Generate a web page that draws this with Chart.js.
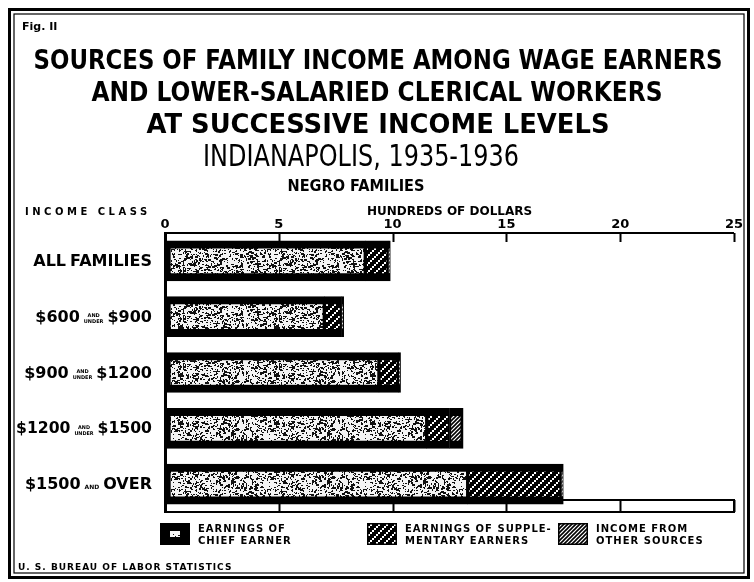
<!DOCTYPE html>
<html>
<head>
<meta charset="utf-8">
<script src="https://cdn.jsdelivr.net/npm/chart.js@4.4.1/dist/chart.umd.min.js"></script>
<style>
  html, body { margin: 0; padding: 0; background: #fff; }
  #wrap { width: 754px; height: 582px; }
</style>
</head>
<body>
<div id="wrap"><canvas id="incomeChart" width="754" height="582"></canvas></div>
<script>
// values, hundreds of dollars
const incomeClasses = ['ALL FAMILIES', '$600 AND UNDER $900', '$900 AND UNDER $1200', '$1200 AND UNDER $1500', '$1500 AND OVER'];
const chiefEarner = [8.8, 7.0, 9.4, 11.5, 13.3];
const supplementary = [1.0, 0.75, 0.85, 1.0, 4.1];
const otherSources = [0.1, 0.1, 0.1, 0.6, 0.1];
const xTicks = [0, 5, 10, 15, 20, 25];

const titleLines = [
    'SOURCES OF FAMILY INCOME AMONG WAGE EARNERS',
    'AND LOWER-SALARIED CLERICAL WORKERS',
    'AT SUCCESSIVE INCOME LEVELS',
    'INDIANAPOLIS, 1935-1936',
    'NEGRO FAMILIES'
];
const legendLines = [
    ['EARNINGS OF', 'CHIEF EARNER'],
    ['EARNINGS OF SUPPLE-', 'MENTARY EARNERS'],
    ['INCOME FROM', 'OTHER SOURCES']
];
const figLabel = 'Fig. II';
const sourceNote = 'U. S. BUREAU OF LABOR STATISTICS';
const classHeading = 'INCOME CLASS';

const FONT = '"DejaVu Sans", "Liberation Sans", sans-serif';

// texture for the chief earner bars (fixed seed so it is the same every time)
function speckle() {
    const c = document.createElement('canvas');
    c.width = 96; c.height = 48;
    const g = c.getContext('2d');
    g.fillStyle = '#f4f4f4';
    g.fillRect(0, 0, 96, 48);
    g.fillStyle = '#111';
    let seed = 1234567;
    const rnd = () => {
        seed |= 0; seed = seed + 0x6D2B79F5 | 0;
        let t = Math.imul(seed ^ seed >>> 15, 1 | seed);
        t = t + Math.imul(t ^ t >>> 7, 61 | t) ^ t;
        return ((t ^ t >>> 14) >>> 0) / 4294967296;
    };
    for (let i = 0; i < 900; i++) {
        const px = Math.floor(rnd() * 96);
        const py = Math.floor(rnd() * 48);
        const r = rnd();
        const w = r < 0.6 ? 1 : (r < 0.9 ? 2 : 3);
        const h = rnd() < 0.6 ? 1 : 2;
        g.fillRect(px, py, w, h);
    }
    return g.createPattern(c, 'repeat');
}

function dottedHatch() {
    const c = document.createElement('canvas');
    c.width = 8; c.height = 8;
    const g = c.getContext('2d');
    g.fillStyle = '#000';
    g.fillRect(0, 0, 8, 8);
    g.fillStyle = '#fff';
    [[0, 6], [2, 4], [4, 2], [6, 0]].forEach(p => g.fillRect(p[0], p[1], 2, 2));
    return g.createPattern(c, 'repeat');
}

function lineHatch() {
    const c = document.createElement('canvas');
    c.width = 4; c.height = 4;
    const g = c.getContext('2d');
    g.fillStyle = '#fff';
    g.fillRect(0, 0, 4, 4);
    g.strokeStyle = '#000';
    g.lineWidth = 1.6;
    g.beginPath();
    g.moveTo(-1, 5); g.lineTo(5, -1);
    g.moveTo(-1, 1); g.lineTo(1, -1);
    g.moveTo(3, 5); g.lineTo(5, 3);
    g.stroke();
    return g.createPattern(c, 'repeat');
}

const chiefFill = speckle();
const suppFill = dottedHatch();
const otherFill = lineHatch();

// income class labels with the small stacked "AND UNDER"
function drawClassLabel(ctx, text, right, cy, maxW) {
    const words = text.split(' ');
    const items = [];
    for (let i = 0; i < words.length; i++) {
        if (words[i] === 'AND' && words[i + 1] === 'UNDER') {
            items.push({ kind: 'stack', a: 'AND', b: 'UNDER' });
            i++;
        } else if (words[i] === 'AND') {
            items.push({ kind: 'small', a: 'AND' });
        } else {
            items.push({ kind: 'big', a: words[i] });
        }
    }
    const big = 'bold 16px ' + FONT;
    const tiny = 'bold 5px ' + FONT;
    const small = 'bold 6px ' + FONT;
    items.forEach(it => {
        if (it.kind === 'big') { ctx.font = big; it.w = ctx.measureText(it.a).width; }
        else if (it.kind === 'small') { ctx.font = small; it.w = ctx.measureText(it.a).width; }
        else { ctx.font = tiny; it.w = Math.max(ctx.measureText(it.a).width, ctx.measureText(it.b).width); }
    });
    const gap = 4;
    const total = items.reduce((t, it) => t + it.w, 0) + gap * (items.length - 1);
    const k = Math.min(1, maxW / total);
    ctx.save();
    ctx.translate(right - total * k, 0);
    ctx.scale(k, 1);
    let x = 0;
    ctx.textAlign = 'left';
    ctx.textBaseline = 'middle';
    items.forEach(it => {
        if (it.kind === 'big') {
            ctx.font = big;
            ctx.fillText(it.a, x, cy + 1);
        } else if (it.kind === 'small') {
            ctx.font = small;
            ctx.fillText(it.a, x, cy + 3);
        } else {
            ctx.font = tiny;
            ctx.fillText(it.a, x + (it.w - ctx.measureText(it.a).width) / 2, cy - 1);
            ctx.fillText(it.b, x, cy + 5);
        }
        x += it.w + gap;
    });
    ctx.restore();
}

const decor = {
    id: 'decor',
    beforeDatasetsDraw(chart) {
        const { ctx, chartArea: a, scales: { x } } = chart;
        ctx.save();
        ctx.strokeStyle = '#000';
        ctx.lineWidth = 2;
        // scale strip along the top
        ctx.beginPath();
        ctx.moveTo(a.left, a.top); ctx.lineTo(a.right, a.top);
        xTicks.forEach(v => {
            const px = Math.round(x.getPixelForValue(v)) + 0.5;
            ctx.moveTo(px, a.top); ctx.lineTo(px, a.top + 9);
        });
        ctx.stroke();
        // scale strip along the bottom
        ctx.beginPath();
        ctx.rect(a.left, a.bottom - 12, a.right - a.left, 12);
        xTicks.forEach(v => {
            const px = Math.round(x.getPixelForValue(v)) + 0.5;
            ctx.moveTo(px, a.bottom - 12); ctx.lineTo(px, a.bottom);
        });
        ctx.stroke();
        ctx.restore();
    },
    afterDraw(chart) {
        const { ctx, scales: { y } } = chart;
        ctx.save();
        ctx.fillStyle = '#000';
        ctx.strokeStyle = '#000';

        // double frame
        ctx.lineWidth = 3;
        ctx.strokeRect(9.5, 9.5, 739, 568);
        ctx.lineWidth = 1.2;
        ctx.strokeRect(14, 14, 730, 559);

        ctx.textBaseline = 'middle';
        ctx.textAlign = 'left';
        ctx.font = 'bold 11px ' + FONT;
        ctx.fillText(figLabel, 22, 27);

        const heads = [
            { x: 378, y: 62, font: 'bold 27px ' + FONT, w: 689 },
            { x: 377, y: 94, font: 'bold 27px ' + FONT, w: 571 },
            { x: 378, y: 126, font: 'bold 27px ' + FONT, w: 463 },
            { x: 361, y: 158, font: '30px ' + FONT, w: 316 },
            { x: 356, y: 187, font: 'bold 16px ' + FONT, w: 137 }
        ];
        ctx.textAlign = 'center';
        titleLines.forEach((t, i) => {
            ctx.font = heads[i].font;
            ctx.fillText(t, heads[i].x, heads[i].y, heads[i].w);
        });

        ctx.textAlign = 'left';
        ctx.font = 'bold 10px ' + FONT;
        ctx.letterSpacing = '3.5px';
        ctx.fillText(classHeading, 25, 212);

        ctx.letterSpacing = '0px';
        const widths = [130, 130, 130, 136, 136];
        incomeClasses.forEach((c, i) => drawClassLabel(ctx, c, 152, y.getPixelForValue(i), widths[i]));

        // legend
        const boxX = [160, 367, 558];
        chart.data.datasets.forEach((ds, i) => {
            const bx = boxX[i], by = 523, bw = 30, bh = 22;
            ctx.fillStyle = ds.backgroundColor;
            ctx.fillRect(bx, by, bw, bh);
            ctx.fillStyle = '#000';
            if (i === 0) {
                ctx.fillRect(bx, by, bw, 8);
                ctx.fillRect(bx, by + bh - 8, bw, 8);
                ctx.fillRect(bx, by, 10, bh);
                ctx.fillRect(bx + bw - 10, by, 10, bh);
            } else {
                ctx.lineWidth = 1.5;
                ctx.strokeRect(bx + 0.75, by + 0.75, bw - 1.5, bh - 1.5);
            }
            ctx.font = 'bold 10px ' + FONT;
            ctx.letterSpacing = '1px';
            ctx.fillText(legendLines[i][0], bx + 38, by + 6);
            ctx.fillText(legendLines[i][1], bx + 38, by + 18);
        });

        ctx.font = 'bold 9px ' + FONT;
        ctx.letterSpacing = '1px';
        ctx.fillText(sourceNote, 18, 568);
        ctx.restore();
    }
};

const borderBase = { top: 8, bottom: 8 };

new Chart(document.getElementById('incomeChart').getContext('2d'), {
    type: 'bar',
    data: {
        labels: incomeClasses,
        datasets: [
            {
                label: 'EARNINGS OF CHIEF EARNER',
                data: chiefEarner,
                backgroundColor: chiefFill,
                borderColor: '#000',
                borderWidth: { ...borderBase, left: 6, right: 2 },
                borderSkipped: false
            },
            {
                label: 'EARNINGS OF SUPPLEMENTARY EARNERS',
                data: supplementary,
                backgroundColor: suppFill,
                borderColor: '#000',
                borderWidth: { ...borderBase, left: 2, right: 2 },
                borderSkipped: false
            },
            {
                label: 'INCOME FROM OTHER SOURCES',
                data: otherSources,
                backgroundColor: otherFill,
                borderColor: '#000',
                borderWidth: { ...borderBase, left: 2, right: 3 },
                borderSkipped: false
            }
        ]
    },
    options: {
        indexAxis: 'y',
        responsive: false,
        animation: false,
        devicePixelRatio: 1,
        barThickness: 40,
        layout: { padding: { top: 193, left: 165, right: 20, bottom: 70 } },
        scales: {
            x: {
                position: 'top',
                stacked: true,
                min: 0,
                max: 25,
                afterBuildTicks: s => { s.ticks = xTicks.map(v => ({ value: v })); },
                afterFit: s => { s.height = 40; },
                grid: { display: false, drawTicks: false },
                border: { display: false },
                ticks: { color: '#000', padding: 1, font: { family: FONT, size: 13, weight: 'bold' } },
                title: {
                    display: true,
                    text: 'HUNDREDS OF DOLLARS',
                    color: '#000',
                    padding: { top: 12, bottom: 0 },
                    font: { family: FONT, size: 12, weight: 'bold' }
                }
            },
            y: {
                stacked: true,
                afterFit: s => { s.width = 0; },
                grid: { display: false, drawTicks: false },
                border: { display: true, color: '#000', width: 3 },
                ticks: { display: false }
            }
        },
        plugins: {
            legend: { display: false },
            tooltip: { enabled: false }
        }
    },
    plugins: [decor]
});
</script>
</body>
</html>
